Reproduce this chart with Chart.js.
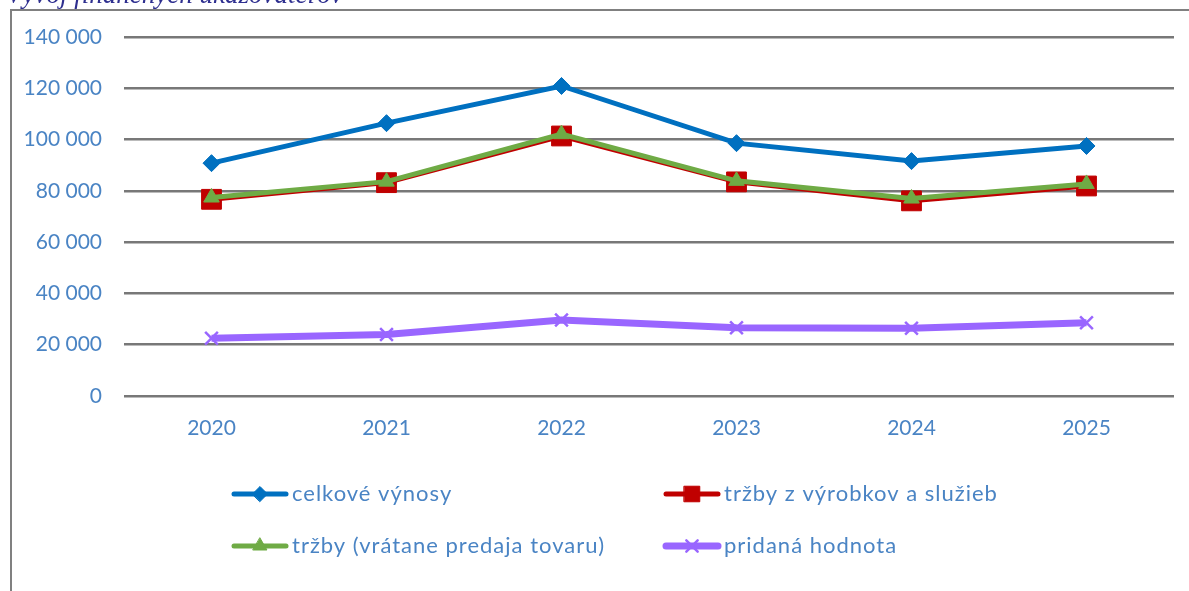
<!DOCTYPE html>
<html>
<head>
<meta charset="utf-8">
<script src="https://cdn.jsdelivr.net/npm/chart.js@4/dist/chart.umd.min.js"></script>
<style>
html,body{margin:0;padding:0;background:#fff;}
#wrap{position:relative;width:1189px;height:591px;}
canvas{display:block;}
</style>
</head>
<body>
<div id="wrap"><canvas id="c" width="1189" height="591"></canvas></div>
<script>
const titleText = 'Vývoj finančných ukazovateľov';
const categories = ['2020', '2021', '2022', '2023', '2024', '2025'];
const seriesNames = ['celkové výnosy', 'tržby z výrobkov a služieb', 'tržby (vrátane predaja tovaru)', 'pridaná hodnota'];
const celkoveVynosy = [90800, 106400, 120900, 98600, 91600, 97500];
const trzbyVyrobky = [76700, 83200, 101400, 83500, 76100, 81900];
const trzbyVratane = [77400, 83600, 102100, 83900, 77000, 82700];
const pridanaHodnota = [22500, 24000, 29600, 26600, 26400, 28600];
const yTicks = [0, 20000, 40000, 60000, 80000, 100000, 120000, 140000];

const TEXT_BLUE = '#4a84c4';
const FONT = 'Lato, "Open Sans", sans-serif';

function fmt(v){ return String(v).replace(/\B(?=(\d{3})+(?!\d))/g, ' '); }

const styles = [
  {color:'#0070c0', width:5, point:'rectRot', radius:8.5, order:2},
  {color:'#c00000', width:5, point:'rect', radius:14, order:3},
  {color:'#6fab45', width:5, point:'triangle', radius:9, order:1},
  {color:'#9966ff', width:7, point:'crossRot', radius:9, order:0}
];
const seriesData = [celkoveVynosy, trzbyVyrobky, trzbyVratane, pridanaHodnota];

const datasets = seriesNames.map((name, i) => {
  const s = styles[i];
  return {
    label: name,
    data: seriesData[i],
    borderColor: s.color,
    backgroundColor: s.color,
    borderWidth: s.width,
    pointStyle: s.point,
    pointRadius: s.radius,
    pointHoverRadius: s.radius,
    pointBorderWidth: s.point === 'crossRot' ? 2.5 : 1,
    pointBorderColor: s.color,
    pointBackgroundColor: s.color,
    tension: 0,
    order: s.order
  };
});

const framePlugin = {
  id: 'frame',
  beforeDraw(chart){
    const ctx = chart.ctx;
    ctx.save();
    ctx.fillStyle = '#fff';
    ctx.fillRect(0,0,chart.width,chart.height);
    // title (partly cut off at the top)
    ctx.fillStyle = '#2e2f8f';
    ctx.font = 'italic 27px "Liberation Serif", serif';
    ctx.textBaseline = 'alphabetic';
    ctx.fillText(titleText, 6, 3, 370);
    ctx.fillStyle = '#fff';
    ctx.fillRect(0, 9, chart.width, 3);
    ctx.strokeStyle = '#808080';
    ctx.lineWidth = 2;
    ctx.beginPath();
    ctx.moveTo(11, chart.height + 2);
    ctx.lineTo(11, 10);
    ctx.lineTo(chart.width + 2, 10);
    ctx.stroke();
    ctx.restore();
  },
  afterDraw(chart){
    const ctx = chart.ctx;
    const items = chart.data.datasets;
    const pos = [[232,494],[664,494],[232,546],[664,546]];
    ctx.save();
    items.forEach((ds, i) => {
      const [x, y] = pos[i];
      const s = styles[i];
      ctx.strokeStyle = s.color;
      ctx.lineWidth = s.width;
      ctx.lineCap = 'round';
      ctx.beginPath();
      ctx.moveTo(x + 2, y);
      ctx.lineTo(x + 54, y);
      ctx.stroke();
      ctx.fillStyle = s.color;
      ctx.lineWidth = s.point === 'crossRot' ? 2.5 : 1;
      Chart.helpers.drawPoint(ctx, {pointStyle: s.point, radius: s.point === 'rect' ? 11 : s.radius - 1, rotation: 0, borderWidth: 1}, x + 28, y);
      ctx.fillStyle = TEXT_BLUE;
      ctx.font = '22px ' + FONT;
      ctx.textBaseline = 'middle';
      ctx.letterSpacing = '1px';
      ctx.fillText(ds.label, x + 60, y);
    });
    ctx.restore();
  }
};

new Chart(document.getElementById('c'), {
  type: 'line',
  data: { labels: categories, datasets },
  options: {
    responsive: false,
    animation: false,
    events: [],
    layout: { padding: { left: 0, right: 14, top: 37, bottom: 0 } },
    plugins: { legend: { display: false }, tooltip: { enabled: false }, title: { display: false } },
    scales: {
      x: {
        offset: true,
        grid: { display: false, drawTicks: false },
        border: { display: false },
        ticks: { color: TEXT_BLUE, font: { family: FONT, size: 21 }, padding: 20 },
        afterFit(scale){ scale.height = 195; }
      },
      y: {
        min: 0, max: 140000,
        afterBuildTicks(scale){ scale.ticks = yTicks.map(v => ({value: v})); },
        grid: { color: '#787878', lineWidth: 2.5, drawTicks: false },
        border: { display: false },
        ticks: { color: TEXT_BLUE, font: { family: FONT, size: 21 }, padding: 22, callback: v => fmt(v) },
        afterFit(scale){ scale.width = 124; }
      }
    }
  },
  plugins: [framePlugin]
});
</script>
</body>
</html>
